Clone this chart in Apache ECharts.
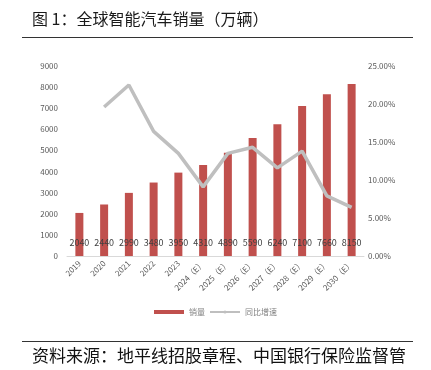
<!DOCTYPE html>
<html><head><meta charset="utf-8">
<script src="https://cdn.jsdelivr.net/npm/echarts@6/dist/echarts.min.js"></script>
<style>html,body{margin:0;padding:0;background:#fff}#c{width:431px;height:370px}</style>
</head><body><div id="c"></div>
<script>
const categories = ['2019','2020','2021','2022','2023','2024（E）','2025（E）','2026（E）','2027（E）','2028（E）','2029（E）','2030（E）'];
const sales = [2040,2440,2990,3480,3950,4310,4890,5590,6240,7100,7660,8150];
const growth = [null,19.6,22.5,16.4,13.5,9.1,13.5,14.3,11.6,13.8,7.9,6.4];
const leftTicks = {min:0,max:9000,interval:1000};
const rightTicks = {min:0,max:25,interval:5};
const titleText = '图 1：全球智能汽车销量（万辆）';
const sourceText = '资料来源：地平线招股章程、中国银行保险监督管';
const font = '"Noto Sans CJK SC", "Noto Sans", sans-serif';

const chart = echarts.init(document.getElementById('c'), null, {renderer:'canvas'});
chart.setOption({
  animation:false,
  textStyle:{fontFamily:font},
  grid:{left:67,right:67,top:66,bottom:114,containLabel:false},
  graphic:[
    {type:'text',left:32,top:11,style:{text:titleText,font:'16px '+font,fill:'#1a1a1a'}},
    {type:'line',shape:{x1:22,y1:37.5,x2:413,y2:37.5},style:{stroke:'#333',lineWidth:1}},
    {type:'line',shape:{x1:22,y1:341.5,x2:413,y2:341.5},style:{stroke:'#333',lineWidth:1}},
    {type:'text',left:32,top:347,style:{text:sourceText,font:'17px '+font,fill:'#111'}}
  ],
  legend:{bottom:49,left:'center',itemWidth:30,itemHeight:4,itemGap:4,
    textStyle:{fontSize:8,color:'#7f7f7f',fontFamily:font},
    data:[{name:'销量',icon:'rect'},{name:'同比增速'}]},
  xAxis:{type:'category',data:categories,
    axisLine:{lineStyle:{color:'#d9d9d9'}},axisTick:{show:false},
    axisLabel:{rotate:45,fontSize:8,color:'#595959',margin:6,interval:0}},
  yAxis:[
    {type:'value',min:leftTicks.min,max:leftTicks.max,interval:leftTicks.interval,
     splitLine:{show:false},axisLine:{show:false},axisTick:{show:false},
     axisLabel:{fontSize:8,color:'#595959',margin:9,formatter:v=>String(v)}},
    {type:'value',min:rightTicks.min,max:rightTicks.max,interval:rightTicks.interval,
     splitLine:{show:false},axisLine:{show:false},axisTick:{show:false},
     axisLabel:{fontSize:8,color:'#595959',margin:4,formatter:v=>v.toFixed(2)+'%'}}
  ],
  series:[
    {name:'销量',type:'bar',data:sales,barWidth:8,itemStyle:{color:'#C0504D'},
     label:{show:true,position:'insideBottom',distance:9,fontSize:9,color:'#404040'}},
    {name:'同比增速',type:'line',yAxisIndex:1,data:growth,symbol:'none',showSymbol:false,
     lineStyle:{color:'#BFBFBF',width:3.5},itemStyle:{color:'#BFBFBF'}}
  ]
});
</script></body></html>
